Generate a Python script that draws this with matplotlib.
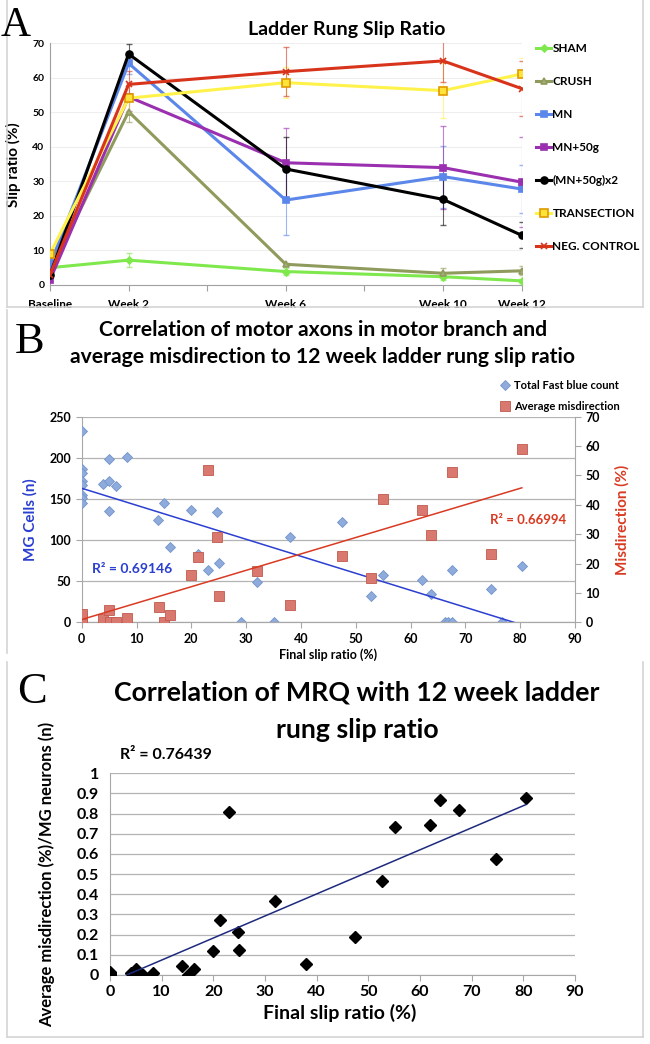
import matplotlib
matplotlib.use('Agg')
import matplotlib.pyplot as plt
import numpy as np
from matplotlib.lines import Line2D

plt.rcParams['font.family'] = ['Lato', 'DejaVu Sans']
plt.rcParams['font.weight'] = 'bold'

# ---------------- data: panel A (ladder rung slip ratio over time) ----------------
weeks = [0, 2, 6, 10, 12]
week_ticks = [0, 2, 4, 6, 8, 10, 12]
week_labels = ['Baseline', 'Week 2', '', 'Week 6', '', 'Week 10', 'Week 12']

groups = ['SHAM', 'CRUSH', 'MN', 'MN+50g', '(MN+50g)x2', 'TRANSECTION', 'NEG. CONTROL']
sham = [5.0, 7.2, 3.9, 2.4, 1.2]
crush = [4.0, 50.2, 6.0, 3.4, 4.1]
mn = [5.8, 64.2, 24.6, 31.4, 27.8]
mn50 = [1.5, 54.5, 35.4, 34.0, 29.8]
mn50x2 = [2.9, 66.9, 33.6, 24.8, 14.4]
transection = [9.0, 54.1, 58.6, 56.3, 61.1]
neg_control = [3.0, 58.1, 61.8, 64.9, 56.9]

sham_err = [0.5, 2.0, 1.0, 1.0, 0.5]
crush_err = [0.5, 3.0, 0.5, 1.5, 1.3]
mn_err = [1.0, 3.0, 10.0, 9.0, 7.0]
mn50_err = [0.5, 4.0, 10.0, 12.0, 13.0]
mn50x2_err = [0.5, 3.0, 9.4, 7.4, 3.8]
transection_err = [1.0, 4.0, 4.5, 8.0, 4.7]
neg_control_err = [1.0, 4.0, 7.0, 6.0, 8.0]

# ---------------- data: panel B ----------------
fb_slip = [0, 0, 0, 0, 0, 0, 0, 0, 3.9, 5, 5, 5, 6.3, 8.3, 14, 15, 16.2, 19.9, 21.3, 23,
           24.6, 25, 29, 31.9, 35, 38, 47.4, 52.8, 54.9, 62, 63.8, 66.2, 66.9, 67.5, 67.5,
           74.7, 76.6, 80.3]
fb_count = [233, 186, 182, 172, 167, 155, 151, 145, 168, 198, 172, 135, 166, 201, 125, 145,
            92, 136, 83, 64, 134, 72, 0, 49, 0, 104, 122, 32, 57, 52, 34, 0, 0, 0, 63, 41, 0,
            68.5]

mis_slip = [0, 0, 0, 0, 0, 3.9, 5, 5.2, 6.3, 8.3, 14.1, 15, 16.2, 19.9, 21.3, 23, 24.6, 25,
            31.9, 38, 47.4, 52.8, 54.9, 62, 63.8, 67.5, 74.7, 80.3]
mis_pct = [0, 0, 0.5, 1.5, 2.8, 1.0, 4.2, 0, 0, 1.4, 5.1, 0, 2.4, 16.1, 22.3, 52, 29, 9.1,
           17.6, 5.8, 22.7, 15, 41.9, 38.1, 29.6, 51.2, 23.1, 59.1]

# ---------------- data: panel C ----------------
mrq_slip = [0, 0, 0, 0, 4, 5, 5.2, 6.3, 8.4, 14, 15, 16.3, 20, 21.2, 23, 24.7, 24.9, 32, 38,
            47.5, 52.7, 55.1, 62, 63.8, 67.5, 74.7, 80.5]
mrq = [0, 0.005, 0.01, 0.015, 0.008, 0.028, 0, 0, 0.008, 0.045, 0, 0.028, 0.12, 0.271,
       0.807, 0.215, 0.124, 0.365, 0.056, 0.187, 0.468, 0.732, 0.744, 0.868, 0.82, 0.574,
       0.877]

W, H = 650, 1044
fig = plt.figure(figsize=(6.5, 10.44), dpi=100)


def fx(px):
    return px / W


def fy(py):
    return 1 - py / H


frame_c = '#d4d4d4'
for x0, y0, x1, y1 in [(7, 0, 7, 307), (643, 0, 643, 307), (7, 307, 643, 307),
                       (7, 310, 7, 653), (7, 662, 7, 1037), (7, 1037, 643, 1037),
                       (643, 662, 643, 1037)]:
    fig.add_artist(Line2D([fx(x0), fx(x1)], [fy(y0), fy(y1)], color=frame_c, lw=1.2))

# ================= Panel A =================
axA = fig.add_axes([fx(50), fy(285), fx(521.6) - fx(50), fy(43.3) - fy(285)])
series = [sham, crush, mn, mn50, mn50x2, transection, neg_control]
errs = [sham_err, crush_err, mn_err, mn50_err, mn50x2_err, transection_err, neg_control_err]
colors = ['#7FE84C', '#8F9B5C', '#5B86EA', '#9A30B0', '#000000', '#FFF24A', '#D8341C']
markers = ['D', '^', 's', 's', 'o', 's', 'x']
msizes = [3.5, 5, 5, 5, 5, 6, 5]
mfaces = ['#7FE84C', '#A7B07A', '#5B86EA', '#9A30B0', '#000000', '#FFE23A', '#D8341C']
medges = ['#7FE84C', '#8F9B5C', '#5B86EA', '#9A30B0', '#000000', '#E09A00', '#D8341C']

handles = []
for vals, err, c, m, ms, mf, me, name in zip(series, errs, colors, markers, msizes,
                                             mfaces, medges, groups):
    axA.errorbar(weeks, vals, yerr=err, fmt='none', ecolor=c, elinewidth=0.8,
                 capsize=2.5, alpha=0.6, zorder=2)
    h, = axA.plot(weeks, vals, color=c, lw=2.2, marker=m, ms=ms, mfc=mf, mec=me,
                  mew=1.2, label=name, zorder=3)
    handles.append(h)

axA.set_xlim(0, 12)
axA.set_ylim(0, 70)
axA.set_yticks(range(0, 71, 10))
axA.set_xticks(week_ticks)
axA.set_xticklabels(week_labels)
axA.grid(axis='y', color='#eeeeee', lw=0.8)
axA.set_axisbelow(True)
for s in ['top', 'right']:
    axA.spines[s].set_visible(False)
for s in ['left', 'bottom']:
    axA.spines[s].set_color('#a0a0a0')
axA.tick_params(axis='y', labelsize=7.5, length=0, pad=4)
axA.tick_params(axis='x', labelsize=8.5, length=4, color='#a0a0a0', pad=6)
for lab in axA.get_xticklabels() + axA.get_yticklabels():
    lab.set_fontweight('bold')
axA.set_ylabel('Slip ratio (%)', fontsize=11, fontweight='bold')
axA.yaxis.set_label_coords(-0.062, 0.5)

axA.legend(handles=handles, loc='upper left', bbox_to_anchor=(fx(530), fy(37)),
           bbox_transform=fig.transFigure, frameon=False, handlelength=1.3,
           handletextpad=0.1, labelspacing=1.86, borderpad=0,
           prop={'size': 8.5, 'weight': 'bold'})

fig.text(fx(347), fy(29), 'Ladder Rung Slip Ratio', ha='center', va='center',
         fontsize=14, fontweight='bold')
fig.text(fx(31), fy(36), 'A', ha='right', va='baseline', fontsize=30,
         family='Liberation Serif', fontweight='normal')

# ================= Panel B =================
axB = fig.add_axes([fx(81.7), fy(622.3), fx(575) - fx(81.7), fy(416.7) - fy(622.3)])
axB2 = axB.twinx()

hb, = axB.plot(fb_slip, fb_count, linestyle='none', marker='D', ms=5.5, mfc='#8EABDB',
               mec='#7394CC', mew=0.6, label='Total Fast blue count', zorder=3)
hr, = axB2.plot(mis_slip, mis_pct, linestyle='none', marker='s', ms=7, mfc='#D9786F',
                mec='#C25A50', mew=0.6, label='Average misdirection', zorder=3)

kb = np.polyfit(fb_slip, fb_count, 1)
xs = np.array([0, max(fb_slip)])
axB.plot(xs, np.polyval(kb, xs), color='#2B3FD0', lw=1.1, zorder=4)
kr = np.polyfit(mis_slip, mis_pct, 1)
xr = np.array([0, max(mis_slip)])
axB2.plot(xr, np.polyval(kr, xr), color='#D93A22', lw=1.1, zorder=4)

axB.set_xlim(0, 90)
axB.set_ylim(0, 250)
axB2.set_ylim(0, 70)
axB.set_xticks(range(0, 91, 10))
axB.set_yticks(range(0, 251, 50))
axB2.set_yticks(range(0, 71, 10))
axB.grid(axis='y', color='#b4b4b4', lw=0.9)
axB.set_axisbelow(True)
for a in (axB, axB2):
    a.spines['top'].set_visible(False)
    for s in ['left', 'right', 'bottom']:
        a.spines[s].set_color('#a8a8a8')
    a.tick_params(labelsize=9, length=4, color='#a8a8a8', direction='out')
    for lab in a.get_xticklabels() + a.get_yticklabels():
        lab.set_fontweight('bold')
axB.spines['right'].set_visible(False)
axB2.spines['left'].set_visible(False)
axB.set_ylabel('MG Cells (n)', fontsize=11, fontweight='bold', color='#2B3FD0')
axB.yaxis.set_label_coords(-0.089, 0.5)
axB2.set_ylabel('Misdirection (%)', fontsize=11, fontweight='bold', color='#D93A22',
                rotation=90)
axB2.yaxis.set_label_coords(1.081, 0.5)
axB.set_xlabel('Final slip ratio (%)', fontsize=9, fontweight='bold')
axB.xaxis.set_label_coords(0.5, -0.128)

axB.text(0.021, 0.259, 'R² = 0.69146', transform=axB.transAxes, color='#2B3FD0',
         fontsize=10, fontweight='bold', va='center')
axB.text(0.828, 0.4975, 'R² = 0.66994', transform=axB.transAxes, color='#D93A22',
         fontsize=9.5, fontweight='bold', va='center')

axB2.legend(handles=[hb, hr], loc='upper left', bbox_to_anchor=(fx(494), fy(374)),
            bbox_transform=fig.transFigure, frameon=False, handlelength=1.0,
            handletextpad=0.3, labelspacing=0.9, borderpad=0,
            prop={'size': 8, 'weight': 'bold'})

fig.text(fx(323), fy(330), 'Correlation of motor axons in motor branch and',
         ha='center', va='center', fontsize=15.2, fontweight='bold')
fig.text(fx(323), fy(357), 'average misdirection to 12 week ladder rung slip ratio',
         ha='center', va='center', fontsize=15.2, fontweight='bold')
fig.text(fx(30), fy(353), 'B', ha='center', va='baseline', fontsize=32,
         family='Liberation Serif', fontweight='normal')

# ================= Panel C =================
axC = fig.add_axes([fx(110), fy(975), fx(575) - fx(110), fy(773.3) - fy(975)])
axC.plot(mrq_slip, mrq, linestyle='none', marker='D', ms=6, mfc='black', mec='black',
         zorder=3)
kc = np.polyfit(mrq_slip, mrq, 1)
xc = np.array([0, max(mrq_slip)])
axC.plot(xc, np.polyval(kc, xc), color='#1E2A7E', lw=1.1, zorder=4)
axC.set_xlim(0, 90)
axC.set_ylim(0, 1)
axC.set_xticks(range(0, 91, 10))
axC.set_yticks(np.round(np.arange(0, 1.01, 0.1), 1))
axC.set_yticklabels(['0', '0.1', '0.2', '0.3', '0.4', '0.5', '0.6', '0.7', '0.8', '0.9', '1'])
axC.grid(axis='y', color='#b4b4b4', lw=0.9)
axC.set_axisbelow(True)
for s in ['top', 'right']:
    axC.spines[s].set_visible(False)
for s in ['left', 'bottom']:
    axC.spines[s].set_color('#a8a8a8')
axC.tick_params(labelsize=11.5, length=4, color='#a8a8a8', direction='out')
axC.tick_params(axis='y', length=0, pad=8)
for lab in axC.get_xticklabels() + axC.get_yticklabels():
    lab.set_fontweight('bold')
axC.set_ylabel('Average misdirection (%)/MG neurons (n)', fontsize=12, fontweight='bold')
axC.yaxis.set_label_coords(-0.118, 0.5)
axC.set_xlabel('Final slip ratio (%)', fontsize=14, fontweight='bold')
axC.xaxis.set_label_coords(0.495, -0.145)
axC.text(0.0215, 1.091, 'R² = 0.76439', transform=axC.transAxes, fontsize=11.5,
         fontweight='bold', va='center')

fig.text(fx(357), fy(693), 'Correlation of MRQ with 12 week ladder', ha='center',
         va='center', fontsize=19.3, fontweight='bold')
fig.text(fx(357), fy(730), 'rung slip ratio', ha='center', va='center', fontsize=19.3,
         fontweight='bold')
fig.text(fx(32), fy(703), 'C', ha='center', va='baseline', fontsize=32,
         family='Liberation Serif', fontweight='normal')

fig.savefig('out.png', dpi=100)
